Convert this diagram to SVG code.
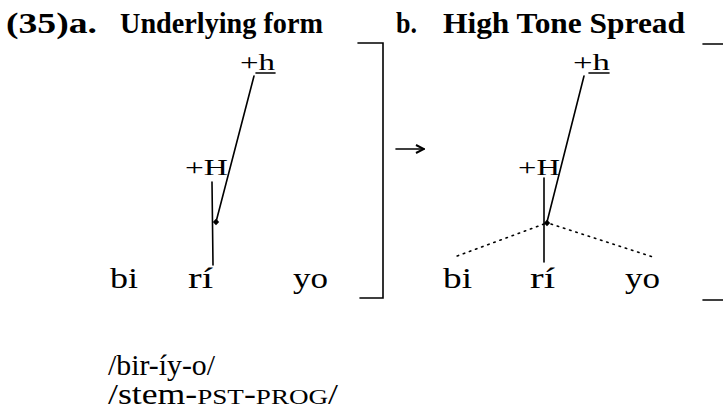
<svg xmlns="http://www.w3.org/2000/svg" width="723" height="417" viewBox="0 0 723 417" font-family="'Liberation Serif', Tinos, 'Times New Roman', Times, serif">
<style>
text{font-family:'Liberation Serif',Tinos,'Times New Roman',Times,serif;fill:#000}
.title{font-size:29px;font-weight:bold}
.tone{font-size:23px}
.seg{font-size:30px}
.gloss{font-size:29px}
.sc{font-size:22px}
.ln{stroke:#000;stroke-width:1.6;fill:none;stroke-linecap:round}
.dot{stroke:#000;stroke-width:1.6;fill:none;stroke-dasharray:1.5 5;stroke-linecap:round}
</style>
<defs>
<path id="knot" d="M0,-3.2 L3.2,0 L0,3.2 L-3.2,0 Z" fill="#000"/>
<marker id="head" viewBox="0 0 10 10" refX="9" refY="5" markerWidth="10" markerHeight="10" markerUnits="userSpaceOnUse" orient="auto">
<path d="M1,1 L9,5 L1,9" fill="none" stroke="#000" stroke-width="2"/>
</marker>
</defs>
<rect width="723" height="417" fill="#fff"/>
<g id="titles">
<text class="title" x="6" y="33" textLength="91" lengthAdjust="spacingAndGlyphs">(35)a.</text>
<text class="title" x="120" y="33" textLength="203" lengthAdjust="spacingAndGlyphs">Underlying form</text>
<text class="title" x="396" y="33" textLength="21" lengthAdjust="spacingAndGlyphs">b.</text>
<text class="title" x="443" y="33" textLength="242" lengthAdjust="spacingAndGlyphs">High Tone Spread</text>
</g>
<g id="brackets">
<polyline class="ln" points="358,43 383,43 383,298 360,298" stroke-width="2"/>
<line class="ln" x1="703" y1="44" x2="723" y2="44" stroke-width="2"/>
<line class="ln" x1="703" y1="300" x2="723" y2="300" stroke-width="2"/>
</g>
<g id="arrow">
<line class="ln" x1="396" y1="149" x2="424" y2="149" stroke-width="2" marker-end="url(#head)"/>
</g>
<g id="a-h">
<text class="tone" x="240" y="70" textLength="35" lengthAdjust="spacingAndGlyphs">+h</text>
<line class="ln" x1="256" y1="73" x2="275" y2="73"/>
</g>
<g id="a-H"><text class="tone" x="185" y="175" textLength="43" lengthAdjust="spacingAndGlyphs">+H</text></g>
<g id="a-bi"><text class="seg" x="110" y="288" textLength="28" lengthAdjust="spacingAndGlyphs">bi</text></g>
<g id="a-ri"><text class="seg" x="188" y="288" textLength="25" lengthAdjust="spacingAndGlyphs">rí</text></g>
<g id="a-yo"><text class="seg" x="293" y="288" textLength="35" lengthAdjust="spacingAndGlyphs">yo</text></g>
<g id="b-h">
<text class="tone" x="573" y="70" textLength="37" lengthAdjust="spacingAndGlyphs">+h</text>
<line class="ln" x1="589" y1="73" x2="609" y2="73"/>
</g>
<g id="b-H"><text class="tone" x="518" y="175" textLength="42" lengthAdjust="spacingAndGlyphs">+H</text></g>
<g id="b-bi"><text class="seg" x="443" y="288" textLength="29" lengthAdjust="spacingAndGlyphs">bi</text></g>
<g id="b-ri"><text class="seg" x="530" y="288" textLength="25" lengthAdjust="spacingAndGlyphs">rí</text></g>
<g id="b-yo"><text class="seg" x="625" y="288" textLength="35" lengthAdjust="spacingAndGlyphs">yo</text></g>
<g id="gloss">
<text class="gloss" x="108" y="375" textLength="107" lengthAdjust="spacingAndGlyphs">/bir-íy-o/</text>
<text class="gloss" x="108" y="404" textLength="230" lengthAdjust="spacingAndGlyphs">/stem-<tspan class="sc">PST</tspan>-<tspan class="sc">PROG</tspan>/</text>
</g>
<g id="connectors">
<line class="ln" x1="254" y1="76" x2="216" y2="222"/>
<line class="ln" x1="212" y1="182" x2="213" y2="265"/>
<use href="#knot" x="216" y="222"/>
<line class="ln" x1="584" y1="76" x2="547" y2="222"/>
<line class="ln" x1="544" y1="178" x2="544" y2="262"/>
<use href="#knot" x="547" y="223"/>
<line class="dot" x1="544" y1="224" x2="457" y2="256"/>
<line class="dot" x1="551" y1="224" x2="653" y2="257"/>
</g>
</svg>
